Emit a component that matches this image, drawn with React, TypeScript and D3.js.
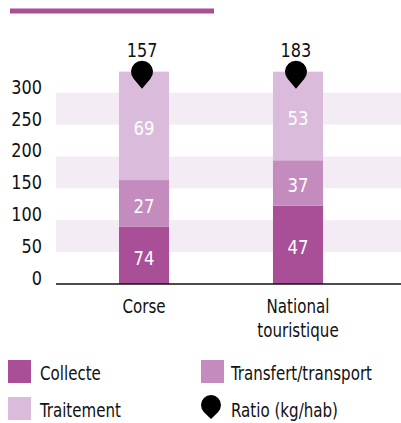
import React from 'react';
import * as d3 from 'd3';

// values
const categories = ['Corse', 'National touristique'];
const categoryLines = [['Corse'], ['National', 'touristique']];
const collecte = [90, 123];
const transfert = [73, 71];
const traitement = [170, 139];
const collecteLabels = [74, 47];
const transfertLabels = [27, 37];
const traitementLabels = [69, 53];
const ratio = [157, 183];
const yTicks = [0, 50, 100, 150, 200, 250, 300];

const series = ['Collecte', 'Transfert/transport', 'Traitement'];
const colors = ['#a84f98', '#c48cbe', '#dbbbdb'];
const FONT = "'DejaVu Sans Condensed', 'DejaVu Sans', sans-serif";

const W = 401;
const H = 423;
const WORD_SX = 0.86; // squeeze to mimic the narrow face of the original
const NUM_SX = 0.92;

// teardrop marker, circle centred on (cx, cy), tip below
const pin = (cx: number, cy: number, r: number, d: number) => {
  const a = Math.acos(r / d);
  const px = r * Math.sin(a);
  const py = r * Math.cos(a);
  return `M${cx},${cy + d} L${cx - px},${cy + py} A${r},${r} 0 1 1 ${cx + px},${cy + py} Z`;
};

const T: React.FC<{
  x: number;
  y: number;
  sx?: number;
  anchor?: 'start' | 'middle' | 'end';
  fill?: string;
  size?: number;
  dy?: string;
  children: React.ReactNode;
}> = ({ x, y, sx = WORD_SX, anchor = 'start', fill = '#111', size = 19.5, dy, children }) => (
  <text transform={`translate(${x},${y}) scale(${sx},1)`} textAnchor={anchor} fill={fill} fontSize={size} dy={dy}>
    {children}
  </text>
);

const App: React.FC = () => {
  const y = d3.scaleLinear().domain([0, 300]).range([284, 92.7]);
  const x = d3.scaleBand<string>().domain(categories).range([42, 400]).paddingInner(0.675).paddingOuter(0.5);

  const rows = categories.map((c, i) => ({
    cat: c,
    Collecte: collecte[i],
    'Transfert/transport': transfert[i],
    Traitement: traitement[i],
  }));
  const stacked = d3.stack<any>().keys(series)(rows);
  const labels = [collecteLabels, transfertLabels, traitementLabels];

  const bands = [[50, 100], [150, 200], [250, 300]];

  return (
    <svg width={W} height={H} style={{ position: 'absolute', left: 0, top: 0 }} fontFamily={FONT}>
      <rect x={10} y={8.5} width={204} height={5} fill="#a84f98" />

      {bands.map(([a, b]) => (
        <rect key={a} x={56} y={y(b)} width={W - 56} height={y(a) - y(b)} fill="#f4ecf5" />
      ))}

      {yTicks.map((t) => (
        <T key={t} x={42} y={y(t) + 1} sx={NUM_SX} anchor="end">
          {t}
        </T>
      ))}

      {stacked.map((s, si) =>
        s.map((d, i) => (
          <g key={`${si}-${i}`}>
            <rect
              x={x(categories[i])}
              y={y(d[1])}
              width={x.bandwidth()}
              height={y(d[0]) - y(d[1])}
              fill={colors[si]}
            />
            <T
              x={(x(categories[i]) as number) + x.bandwidth() / 2}
              y={(y(d[0]) + y(d[1])) / 2 + 2}
              dy="0.36em"
              sx={NUM_SX}
              anchor="middle"
              size={20}
              fill="#fff"
            >
              {labels[si][i]}
            </T>
          </g>
        ))
      )}

      <line x1={56} x2={W} y1={y(0)} y2={y(0)} stroke="#111" strokeWidth={1.5} />

      {categories.map((c, i) => {
        const cx = (x(c) as number) + x.bandwidth() / 2 - 2;
        const top = y(stacked[stacked.length - 1][i][1]);
        return (
          <g key={c}>
            <path d={pin(cx, top, 11, 17)} fill="#000" />
            <T x={cx} y={top - 15} sx={NUM_SX} anchor="middle">
              {ratio[i]}
            </T>
            {categoryLines[i].map((l, li) => (
              <T key={l} x={cx + 2} y={y(0) + 29 + li * 24} anchor="middle">
                {l}
              </T>
            ))}
          </g>
        );
      })}

      {/* legend */}
      <rect x={8} y={360} width={23} height={23} fill={colors[0]} />
      <T x={40} y={380}>{series[0]}</T>
      <rect x={201} y={360} width={23} height={23} fill={colors[1]} />
      <T x={231} y={380}>{series[1]}</T>
      <rect x={8} y={397} width={23} height={23} fill={colors[2]} />
      <T x={40} y={417}>{series[2]}</T>
      <path d={pin(211, 405, 10, 14)} fill="#000" />
      <T x={231} y={417}>Ratio (kg/hab)</T>
    </svg>
  );
};

export default App;
